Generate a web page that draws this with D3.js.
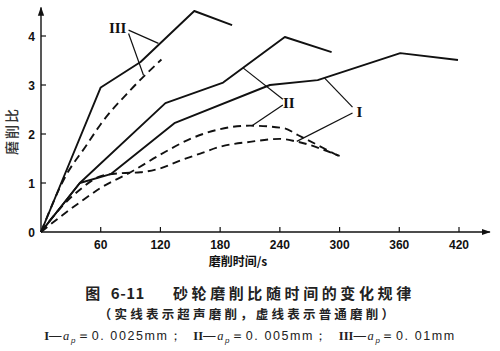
<!DOCTYPE html>
<html>
<head>
<meta charset="utf-8">
<script src="https://cdn.jsdelivr.net/npm/d3@7"></script>
<style>
  html, body { margin: 0; padding: 0; background: #fff; }
  svg { display: block; }
</style>
</head>
<body>
<div id="chart"></div>
<script>
// 砂轮磨削比随时间的变化规律（图 6-11）
// 实线 = 超声磨削，虚线 = 普通磨削；I / II / III 为三种切深

const xTicks = [60, 120, 180, 240, 300, 360, 420];
const yTicks = [0, 1, 2, 3, 4];

// 实线（超声磨削）：[时间 s, 磨削比]
const solidI   = [[0, 0], [39, 1.0], [70, 1.18], [134, 2.22], [230, 3.0], [278, 3.1], [361, 3.65], [419, 3.51]];
const solidII  = [[0, 0], [39, 1.0], [125, 2.63], [183, 3.05], [245, 3.98], [292, 3.67]];
const solidIII = [[0, 0], [60, 2.95], [100, 3.47], [154, 4.51], [192, 4.22]];

// 虚线（普通磨削）
const dashI   = [[0, 0], [20, 0.5], [40, 0.88], [60, 1.14], [80, 1.2], [100, 1.22], [120, 1.3], [140, 1.46], [160, 1.6], [180, 1.74], [210, 1.84], [240, 1.9], [256, 1.85], [300, 1.55]];
const dashII  = [[0, 0], [20, 0.32], [40, 0.62], [60, 0.9], [90, 1.22], [120, 1.58], [150, 1.9], [180, 2.1], [210, 2.17], [244, 2.12], [258, 1.98], [302, 1.52]];
const dashIII = [[0, 0], [25, 1.15], [45, 1.75], [60, 2.2], [90, 2.9], [121, 3.52]];

// 标注：文字位置 + 引线（数据坐标）
const labels = [
  { text: "III", at: [77, 4.16], leaders: [[[88, 4.12], [118, 3.85]], [[88, 4.05], [103, 3.2]]] },
  { text: "II",  at: [249, 2.63], leaders: [[[243, 2.71], [203, 3.35]], [[243, 2.59], [212, 2.17]]] },
  { text: "I",   at: [320, 2.45], leaders: [[[313, 2.55], [285, 3.14]], [[313, 2.43], [257, 1.85]]] },
];

const W = 500, H = 351;
const x = d3.scaleLinear().domain([0, 420]).range([41, 459]);
const y = d3.scaleLinear().domain([0, 4]).range([232, 36]);
const INK = "#111";
const SANS = `"Liberation Sans", Arial, sans-serif`;
const CJK = `"Noto Sans CJK SC", "Noto Sans", sans-serif`;
const SERIF = `"Liberation Serif", "DejaVu Serif", serif`;

const svg = d3.select("#chart").append("svg")
  .attr("width", W).attr("height", H)
  .attr("viewBox", `0 0 ${W} ${H}`);

// 箭头
svg.append("defs").append("marker")
  .attr("id", "arr").attr("viewBox", "0 0 10 10")
  .attr("refX", 9).attr("refY", 5)
  .attr("markerWidth", 9).attr("markerHeight", 9)
  .attr("markerUnits", "userSpaceOnUse")
  .attr("orient", "auto")
  .append("path").attr("d", "M0,1.5 L10,5 L0,8.5 Z").attr("fill", INK);

// 坐标轴
svg.append("line")
  .attr("x1", x(0)).attr("y1", y(0)).attr("x2", x(451)).attr("y2", y(0))
  .attr("stroke", INK).attr("stroke-width", 1.4).attr("marker-end", "url(#arr)");
svg.append("line")
  .attr("x1", x(0)).attr("y1", y(0)).attr("x2", x(0)).attr("y2", y(4.58))
  .attr("stroke", INK).attr("stroke-width", 1.4).attr("marker-end", "url(#arr)");

// 刻度（朝内）
xTicks.forEach(t => {
  svg.append("line").attr("x1", x(t)).attr("x2", x(t))
    .attr("y1", y(0)).attr("y2", y(0) - 5).attr("stroke", INK).attr("stroke-width", 1.2);
  svg.append("text").attr("x", x(t)).attr("y", y(0) + 17)
    .attr("text-anchor", "middle")
    .attr("style", `font:700 12px ${SANS};fill:${INK}`)
    .text(t);
});
yTicks.forEach(v => {
  if (v > 0) {
    svg.append("line").attr("x1", x(0)).attr("x2", x(0) + 5)
      .attr("y1", y(v)).attr("y2", y(v)).attr("stroke", INK).attr("stroke-width", 1.2);
  }
  svg.append("text").attr("x", x(0) - 6).attr("y", y(v) + (v === 0 ? 5 : 4.5))
    .attr("text-anchor", "end")
    .attr("style", `font:700 12px ${SANS};fill:${INK}`)
    .text(v);
});

// 轴标题
svg.append("text")
  .attr("transform", `translate(17, ${y(2) - 3}) rotate(-90)`)
  .attr("text-anchor", "middle")
  .attr("style", `font:500 14px ${CJK};fill:#333;letter-spacing:2px`)
  .text("磨削比");
svg.append("text").attr("x", 238).attr("y", 266)
  .attr("text-anchor", "middle")
  .attr("style", `font:700 12px ${CJK};fill:${INK}`)
  .text("磨削时间/s");

// 曲线
const lineSolid = d3.line().x(d => x(d[0])).y(d => y(d[1]));
const lineDash = d3.line().x(d => x(d[0])).y(d => y(d[1])).curve(d3.curveMonotoneX);

[solidI, solidII, solidIII].forEach(s => {
  svg.append("path").attr("d", lineSolid(s))
    .attr("fill", "none").attr("stroke", INK).attr("stroke-width", 1.9)
    .attr("stroke-linejoin", "round");
});
[dashI, dashII, dashIII].forEach(s => {
  svg.append("path").attr("d", lineDash(s))
    .attr("fill", "none").attr("stroke", INK).attr("stroke-width", 1.9)
    .attr("stroke-dasharray", "8 5");
});

// 标注
labels.forEach(l => {
  l.leaders.forEach(([a, b]) => {
    svg.append("line")
      .attr("x1", x(a[0])).attr("y1", y(a[1]))
      .attr("x2", x(b[0])).attr("y2", y(b[1]))
      .attr("stroke", INK).attr("stroke-width", 1.2);
  });
  svg.append("text")
    .attr("x", x(l.at[0])).attr("y", y(l.at[1]) + 5)
    .attr("text-anchor", "middle")
    .attr("style", `font:700 15px ${SERIF};fill:${INK}`)
    .text(l.text);
});

// 图题
const title = svg.append("text").attr("x", 250).attr("y", 299)
  .attr("text-anchor", "middle").attr("xml:space", "preserve")
  .attr("style", `font:700 15px ${CJK};fill:#222;letter-spacing:3.6px`);
title.append("tspan").text("图 ");
title.append("tspan").attr("style", "letter-spacing:0.5px").text("6-11");
title.append("tspan").text("    砂轮磨削比随时间的变化规律");
svg.append("text").attr("x", 248).attr("y", 319)
  .attr("text-anchor", "middle")
  .attr("style", `font:700 12.5px ${CJK};fill:#222;letter-spacing:3.2px`)
  .text("（实线表示超声磨削，虚线表示普通磨削）");

const note = svg.append("text").attr("x", 250).attr("y", 340)
  .attr("text-anchor", "middle").attr("xml:space", "preserve")
  .attr("style", `font:12.5px ${SANS};fill:#222;letter-spacing:1.6px`);
const parts = [["I", "0. 0025mm；  "], ["II", "0. 005mm；  "], ["III", "0. 01mm"]];
parts.forEach(([n, v]) => {
  note.append("tspan").attr("style", `font-family:${SERIF};font-weight:700;letter-spacing:0px`).text(n);
  note.append("tspan").text("—");
  note.append("tspan").attr("style", `font-family:${SERIF};font-style:italic`).text("a");
  note.append("tspan").attr("dy", 3).attr("style", "font-size:8px;font-style:italic").text("p");
  note.append("tspan").attr("dy", -3).text("＝" + v);
});
</script>
</body>
</html>
